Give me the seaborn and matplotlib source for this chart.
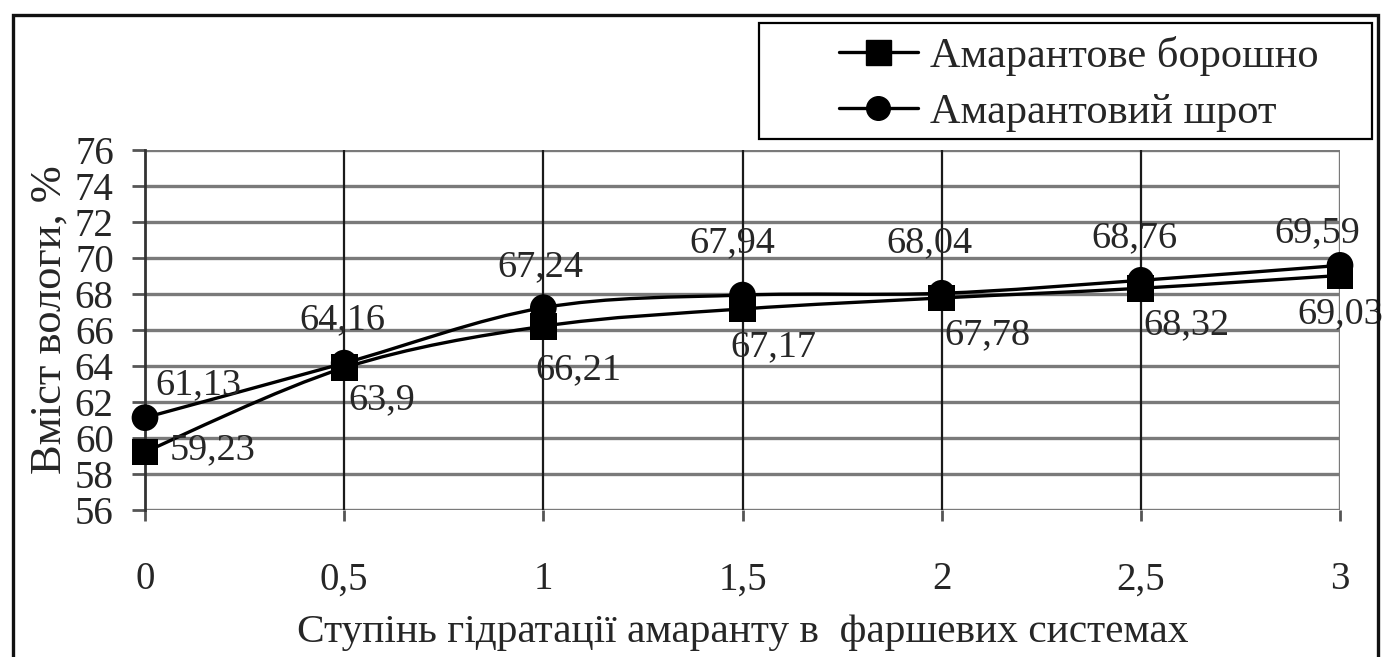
import numpy as np
import pandas as pd
import matplotlib
matplotlib.use("Agg")
import matplotlib.pyplot as plt
from matplotlib.path import Path
from matplotlib.patches import PathPatch, Rectangle
from matplotlib.lines import Line2D
import seaborn as sns

# Degree of hydration of amaranth in minced-meat systems
hydration = [0, 0.5, 1, 1.5, 2, 2.5, 3]
flour = [59.23, 63.9, 66.21, 67.17, 67.78, 68.32, 69.03]    # Амарантове борошно
meal = [61.13, 64.16, 67.24, 67.94, 68.04, 68.76, 69.59]     # Амарантовий шрот
series_names = ["Амарантове борошно", "Амарантовий шрот"]
y_ticks = [56, 58, 60, 62, 64, 66, 68, 70, 72, 74, 76]
x_ticks = [0, 0.5, 1, 1.5, 2, 2.5, 3]
x_label = "Ступінь гідратації амаранту в  фаршевих системах"
y_label = "Вміст вологи, %"

# value-label offsets in pixels (dx, dy), positive dy is upward
flour_offsets = [(68, 2), (38, -32), (35, -44), (31, -38), (46, -37), (46, -37), (0, -38)]
meal_offsets = [(53, 33), (-2, 43), (-3, 41), (-10, 52), (-12, 50), (-6, 42), (-23, 32)]

df = pd.DataFrame({
    "x": hydration * 2,
    "y": flour + meal,
    "series": [series_names[0]] * len(flour) + [series_names[1]] * len(meal),
})

sns.set_theme(style="white")
plt.rcParams["font.family"] = ["Liberation Serif", "DejaVu Serif"]

W, H = 1384, 657
fig = plt.figure(figsize=(W / 100, H / 100), dpi=100)
fig.patch.set_facecolor("white")
ax = fig.add_axes([145 / W, 1 - 510 / H, (1340 - 145) / W, (510 - 150) / H])
ax.set_facecolor("white")


def smooth_path(xs, ys):
    """Bezier spline through the points (smoothed line)."""
    pts = np.column_stack([xs, ys]).astype(float)
    n = len(pts)
    verts = [pts[0]]
    codes = [Path.MOVETO]
    for i in range(n - 1):
        p0 = pts[i - 1] if i > 0 else pts[i]
        p1 = pts[i]
        p2 = pts[i + 1]
        p3 = pts[i + 2] if i + 2 < n else pts[i + 1]
        c1 = p1 + (p2 - p0) / 6.0
        c2 = p2 - (p3 - p1) / 6.0
        verts += [c1, c2, p2]
        codes += [Path.CURVE4] * 3
    return Path(verts, codes)


for ys in (flour, meal):
    ax.add_patch(PathPatch(smooth_path(hydration, ys), facecolor="none",
                           edgecolor="black", lw=2.4, zorder=4, capstyle="round"))

sns.scatterplot(data=df, x="x", y="y", style="series",
                markers={series_names[0]: "s", series_names[1]: "o"},
                color="black", s=370, edgecolor="black", linewidth=0, legend=False,
                ax=ax, zorder=5, clip_on=False)

ax.set_xlim(0, 3)
ax.set_ylim(56, 76)
ax.set_xticks(x_ticks)
ax.set_yticks(y_ticks)
ax.set_xticklabels([f"{v:g}".replace(".", ",") for v in x_ticks])
ax.set_yticklabels([str(v) for v in y_ticks])

# grid: grey horizontals, dark verticals
for v in y_ticks:
    ax.axhline(v, color="#7a7a7a", lw=2.4, zorder=1)
for v in x_ticks[1:-1]:
    ax.axvline(v, color="#1a1a1a", lw=1.6, zorder=1)
ax.axvline(3, color="#7a7a7a", lw=2.4, zorder=1)

for side in ("top", "right", "bottom"):
    ax.spines[side].set_visible(False)
ax.spines["left"].set_color("#333333")
ax.spines["left"].set_linewidth(2.0)

ax.tick_params(axis="y", direction="out", length=9.5, width=2.0, color="#555555",
               labelsize=28, pad=13, left=True)
ax.tick_params(axis="x", direction="out", length=8, width=2.0, color="#555555",
               labelsize=28, pad=29, bottom=True)

ax.set_xlabel(x_label, fontsize=29.8)
ax.xaxis.label.set_va("center")
ax.xaxis.set_label_coords(0.5004, -0.339)
ax.set_ylabel(y_label, fontsize=32)
ax.yaxis.label.set_va("center")
ax.yaxis.set_label_coords(-0.0795, 0.528)

for xs, ys, offs in ((hydration, flour, flour_offsets), (hydration, meal, meal_offsets)):
    for x, y, (dx, dy) in zip(xs, ys, offs):
        ax.annotate(f"{y:g}".replace(".", ","), (x, y), xytext=(dx, dy),
                    textcoords="offset pixels", ha="center", va="center",
                    fontsize=27.5, zorder=6)

# legend with its own box
fig.patches.append(Rectangle((759 / W, 1 - 139 / H), (1372 - 759) / W, (139 - 23) / H,
                             transform=fig.transFigure, facecolor="white", edgecolor="black",
                             lw=1.6, zorder=10))
handles = [Line2D([], [], color="black", lw=2.4, marker="s", markersize=18),
           Line2D([], [], color="black", lw=2.4, marker="o", markersize=17)]
leg = fig.legend(handles, series_names, loc="center left", bbox_to_anchor=(818 / W, 1 - 84 / H),
                 frameon=False, fontsize=30.5, handlelength=1.85, handletextpad=0.3,
                 labelspacing=0.42, borderpad=0)
leg.set_zorder(11)

# outer frame
fig.patches.append(Rectangle((13 / W, -0.1), (1378 - 13) / W, 1 - 15 / H + 0.1,
                             transform=fig.transFigure, facecolor="none", edgecolor="#111111",
                             lw=2.4, zorder=12))

fig.savefig("out.png", dpi=100)
